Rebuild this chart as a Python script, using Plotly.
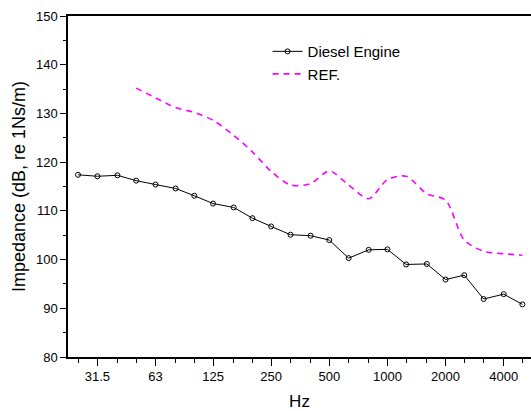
import plotly.graph_objects as go

freqs = [25, 31.5, 40, 50, 63, 80, 100, 125, 160, 200, 250, 315, 400, 500,
         630, 800, 1000, 1250, 1600, 2000, 2500, 3150, 4000, 5000]
diesel = [117.4, 117.1, 117.3, 116.2, 115.4, 114.6, 113.1, 111.5, 110.7, 108.5,
          106.8, 105.1, 104.9, 104.0, 100.3, 102.0, 102.1, 99.0, 99.1, 95.9,
          96.8, 91.9, 92.9, 90.8]
ref_freqs = [50, 63, 80, 100, 125, 160, 200, 250, 315, 400, 500, 630, 800,
             1000, 1250, 1600, 2000, 2500, 3150, 4000, 5000]
ref = [135.2, 133.2, 131.2, 130.2, 128.6, 125.5, 122.1, 118.1, 115.3, 115.6,
       118.2, 115.3, 112.5, 116.4, 117.1, 113.5, 112.2, 104.0, 101.7, 101.2, 100.9]
tick_vals = [31.5, 63, 125, 250, 500, 1000, 2000, 4000]
tick_text = ["31.5", "63", "125", "250", "500", "1000", "2000", "4000"]
minor_vals = [f for f in freqs if f not in tick_vals]

fig = go.Figure()
fig.add_trace(go.Scatter(
    x=freqs, y=diesel, mode="lines+markers", name="Diesel Engine",
    line=dict(color="black", width=1),
    marker=dict(symbol="circle-open", size=5, color="black", line=dict(width=1)),
))
fig.add_trace(go.Scatter(
    x=ref_freqs, y=ref, mode="lines", name="REF.",
    line=dict(color="#ff00ff", width=1.6, dash="6px,5px", shape="spline", smoothing=0.8),
))

font = "Liberation Sans, Arial, sans-serif"
fig.update_layout(
    width=531, height=411,
    margin=dict(l=68, r=0, t=16, b=54),
    plot_bgcolor="white", paper_bgcolor="white",
    font=dict(family=font, size=13, color="black"),
    showlegend=True,
    legend=dict(x=0.431, y=0.944, xanchor="left", yanchor="top",
                bgcolor="rgba(0,0,0,0)", font=dict(size=15),
                tracegroupgap=0, itemwidth=30),
    xaxis=dict(
        type="log", range=[1.346, 3.7435],
        tickmode="array", tickvals=tick_vals, ticktext=tick_text,
        ticks="outside", ticklen=7, tickwidth=1, tickcolor="black",
        showline=True, linecolor="black", linewidth=1.5, mirror=True,
        showgrid=False, zeroline=False,
        tickfont=dict(size=13),
        title=dict(text="Hz", font=dict(size=17), standoff=12),
        minor=dict(tickmode="array", tickvals=minor_vals, ticks="outside",
                   ticklen=4, tickwidth=1, tickcolor="black", showgrid=False),
    ),
    yaxis=dict(
        range=[80, 150], tickmode="array", tickvals=[80, 90, 100, 110, 120, 130, 140, 150],
        ticks="outside", ticklen=6, tickwidth=1, tickcolor="black",
        showline=True, linecolor="black", linewidth=1.5, mirror=False,
        showgrid=False, zeroline=False,
        tickfont=dict(size=13),
        title=dict(text="Impedance (dB, re 1Ns/m)", font=dict(size=18), standoff=6),
        minor=dict(dtick=5, tick0=80, ticks="outside", ticklen=3, tickwidth=1,
                   tickcolor="black", showgrid=False),
    ),
)

fig.write_html("out.html")
